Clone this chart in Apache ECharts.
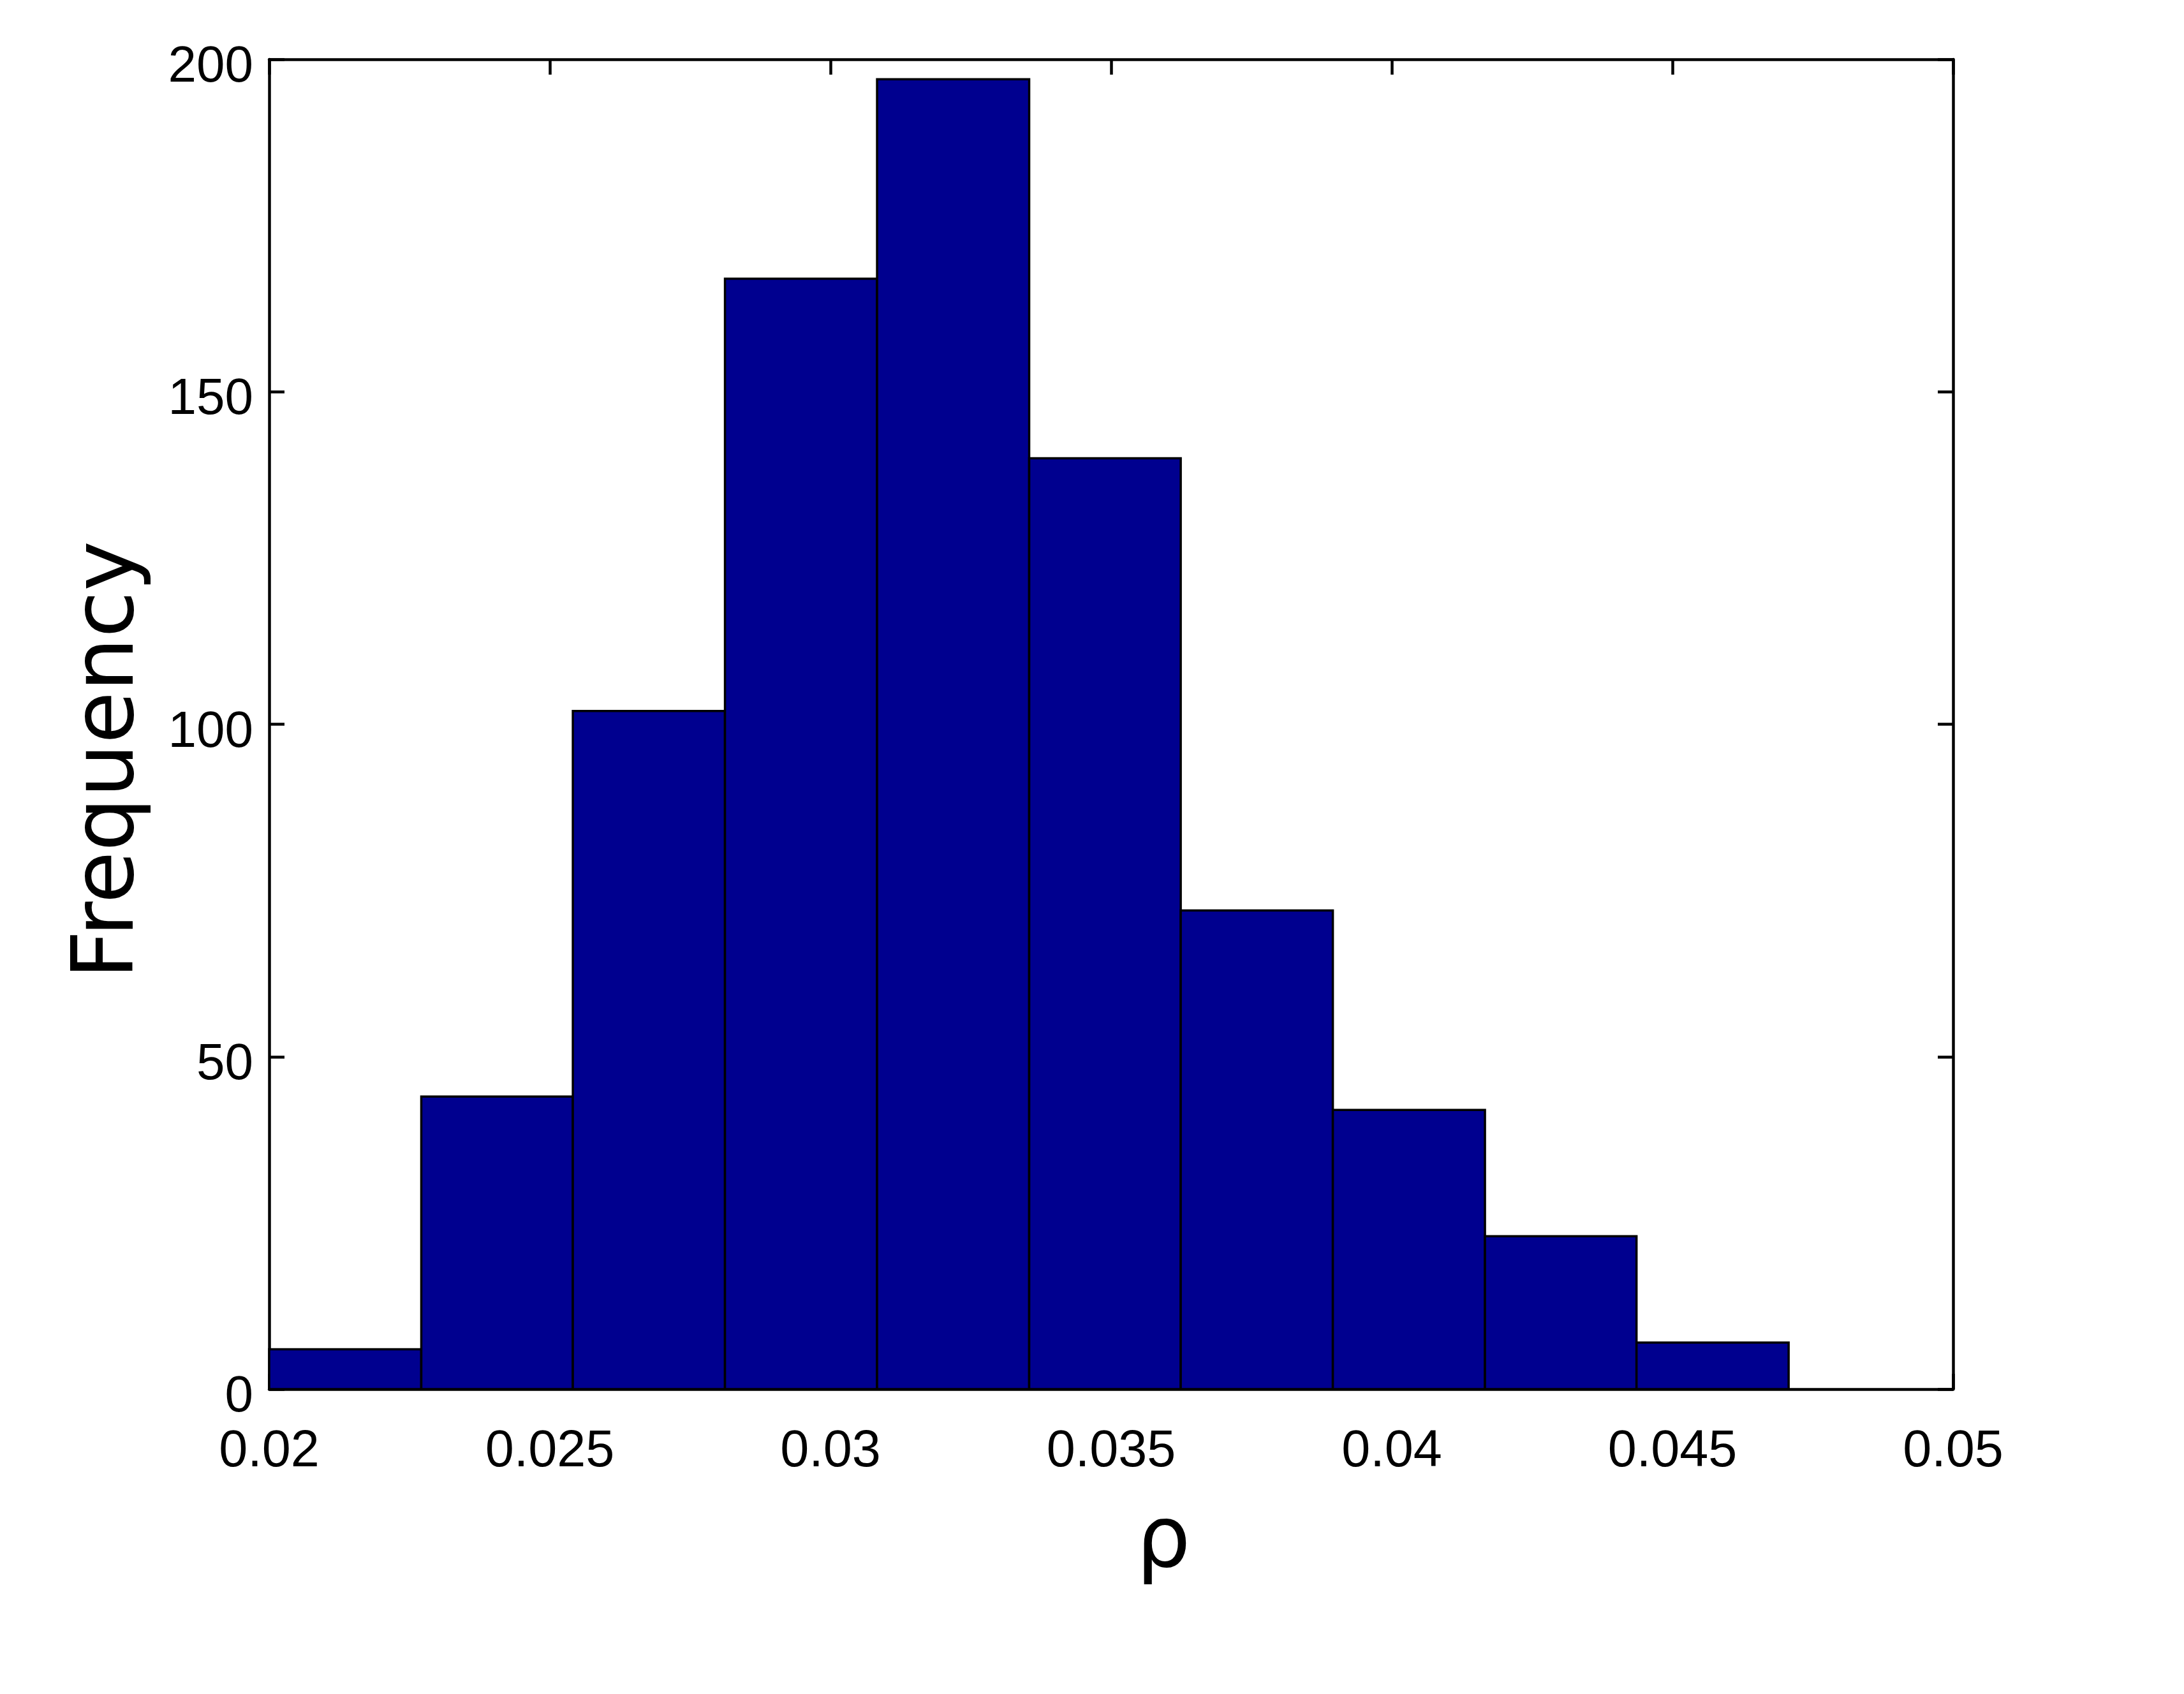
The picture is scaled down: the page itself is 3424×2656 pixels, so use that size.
<!DOCTYPE html>
<html>
<head>
<meta charset="utf-8">
<script src="https://cdn.jsdelivr.net/npm/echarts@6/dist/echarts.min.js"></script>
<style>
html,body{margin:0;padding:0;background:#ffffff;}
#chart{width:3424px;height:2656px;}
</style>
</head>
<body>
<div id="chart"></div>
<script>
// Histogram bin edges
const binStarts = [0.02000, 0.02271, 0.02541, 0.02812, 0.03083, 0.03354, 0.03624, 0.03895, 0.04166, 0.04436];
const binEnds   = [0.02271, 0.02541, 0.02812, 0.03083, 0.03354, 0.03624, 0.03895, 0.04166, 0.04436, 0.04707];
const counts    = [6, 44, 102, 167, 197, 140, 72, 42, 23, 7];
const xTickLabels = ['0.02', '0.025', '0.03', '0.035', '0.04', '0.045', '0.05'];
const yTickLabels = ['0', '50', '100', '150', '200'];
const xTitle = 'ρ';
const yTitle = 'Frequency';

const data = counts.map((c, i) => [binStarts[i], binEnds[i], c]);

const chart = echarts.init(document.getElementById('chart'), null, {renderer: 'canvas'});
const black = '#000000';
const tickFont = 'Liberation Sans';
const titleFont = 'DejaVu Sans';

const xLabelFmt = v => {
  const i = Math.round((v - 0.02) / 0.005);
  return xTickLabels[i] !== undefined ? xTickLabels[i] : '';
};
const yLabelFmt = v => {
  const i = Math.round(v / 50);
  return yTickLabels[i] !== undefined ? '{v|' + yTickLabels[i] + '}' : '';
};

const mkLine = () => ({show: true, onZero: false, lineStyle: {color: black, width: 4.5}});
const mkTick = () => ({show: true, inside: true, length: 24, lineStyle: {color: black, width: 4.5}});

chart.setOption({
  backgroundColor: '#ffffff',
  animation: false,
  grid: {left: 422, right: 362, top: 93, bottom: 478, containLabel: false},
  xAxis: [
    {
      type: 'value', min: 0.02, max: 0.05, interval: 0.005, position: 'bottom', gridIndex: 0,
      axisLine: mkLine(), axisTick: mkTick(), splitLine: {show: false},
      axisLabel: {show: true, formatter: xLabelFmt, margin: 58, color: black,
                  fontFamily: tickFont, fontSize: 81},
      name: xTitle, nameLocation: 'middle', nameGap: 176,
      nameTextStyle: {fontFamily: titleFont, fontSize: 134, color: black, padding: [0, 0, 0, 164]}
    },
    {
      type: 'value', min: 0.02, max: 0.05, interval: 0.005, position: 'top', gridIndex: 0,
      axisLine: mkLine(), axisTick: mkTick(), splitLine: {show: false},
      axisLabel: {show: false}
    }
  ],
  yAxis: [
    {
      type: 'value', min: 0, max: 200, interval: 50, position: 'left', gridIndex: 0,
      axisLine: mkLine(), axisTick: mkTick(), splitLine: {show: false},
      axisLabel: {show: true, formatter: yLabelFmt, margin: 25, color: black,
                  fontFamily: tickFont, fontSize: 80,
                  rich: {v: {fontFamily: tickFont, fontSize: 80, color: black, padding: [26, 0, 0, 0]}}},
      name: yTitle, nameLocation: 'middle', nameRotate: 90, nameGap: 182,
      nameTextStyle: {fontFamily: titleFont, fontSize: 133, color: black, padding: [0, 112, 0, 0]}
    },
    {
      type: 'value', min: 0, max: 200, interval: 50, position: 'right', gridIndex: 0,
      axisLine: mkLine(), axisTick: mkTick(), splitLine: {show: false},
      axisLabel: {show: false}
    }
  ],
  series: [{
    type: 'custom',
    zlevel: 1,
    xAxisIndex: 0, yAxisIndex: 0,
    encode: {x: [0, 1], y: 2},
    data: data,
    clip: false,
    renderItem: function (params, api) {
      const p0 = api.coord([api.value(0), api.value(2)]);
      const p1 = api.coord([api.value(1), 0]);
      return {
        type: 'rect',
        shape: {x: p0[0], y: p0[1], width: p1[0] - p0[0], height: p1[1] - p0[1]},
        style: {fill: '#00008F', stroke: black, lineWidth: 3.5}
      };
    }
  }]
});
</script>
</body>
</html>
